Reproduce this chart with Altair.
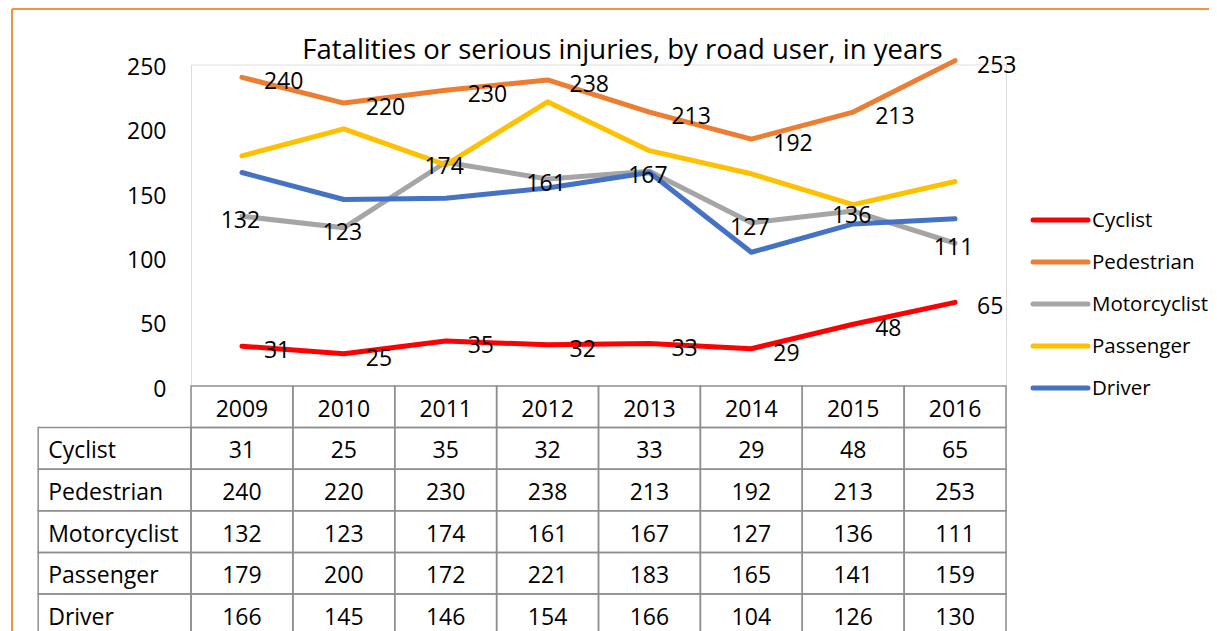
import altair as alt
import pandas as pd

# ---------------- data ----------------
YEARS = [2009, 2010, 2011, 2012, 2013, 2014, 2015, 2016]
SERIES = ["Cyclist", "Pedestrian", "Motorcyclist", "Passenger", "Driver"]
CYCLIST = [31, 25, 35, 32, 33, 29, 48, 65]
PEDESTRIAN = [240, 220, 230, 238, 213, 192, 213, 253]
MOTORCYCLIST = [132, 123, 174, 161, 167, 127, 136, 111]
PASSENGER = [179, 200, 172, 221, 183, 165, 141, 159]
DRIVER = [166, 145, 146, 154, 166, 104, 126, 130]
Y_TICKS = [0, 50, 100, 150, 200, 250]
TITLE = "Fatalities or serious injuries, by road user, in years"
LABEL_RIGHT = ["Cyclist", "Pedestrian"]      # data labels right of point
LABEL_CENTER = ["Motorcyclist"]              # data labels centred on point

# ---------------- style / layout ----------------
COLORS = ["#FF0000", "#ED7D31", "#A5A5A5", "#FFC000", "#4472C4"]
BORDER = "#F0953F"
GRID = "#8E8E8E"
FONT = "Open Sans"
FS = 23
LEG_FS = 20.5
PAD_L, PAD_T, PAD_R = 183, 56.5, 203
W, H = 815, 566.5
ZERO_PX = 321.5          # pixel of value 0 inside the plot
ROW_H = 41.6             # table row height, px
LABEL_COL = 1.5          # width of table's row-label column, in year units

VALUES = dict(zip(SERIES, [CYCLIST, PEDESTRIAN, MOTORCYCLIST, PASSENGER, DRIVER]))
long = pd.DataFrame(
    [{"series": s, "year": y, "value": v} for s in SERIES for y, v in zip(YEARS, VALUES[s])]
)

x_scale = alt.Scale(domain=[YEARS[0] - 0.5, YEARS[-1] + 0.5], nice=False, zero=False)
y_val = alt.Scale(domain=[0, 250], range=[ZERO_PX, 0], nice=False)
color_scale = alt.Scale(domain=SERIES, range=COLORS)

X = alt.X("year:Q", scale=x_scale, axis=None)
Yv = alt.Y("value:Q", scale=y_val, axis=None)

lines = alt.Chart(long).mark_line(strokeWidth=5, strokeCap="round", strokeJoin="round").encode(
    x=X,
    y=alt.Y(
        "value:Q",
        scale=y_val,
        axis=alt.Axis(
            values=Y_TICKS, grid=False, domain=False, ticks=False, tickSize=0,
            labelPadding=25, labelOffset=3, labelFont=FONT, labelFontSize=FS,
            labelColor="black", title=None,
        ),
    ),
    color=alt.Color("series:N", scale=color_scale, legend=None),
)

lab_right = alt.Chart(long[long.series.isin(LABEL_RIGHT)]).mark_text(
    align="left", baseline="middle", dx=22, dy=5, font=FONT, fontSize=FS, color="black"
).encode(x=X, y=Yv, text="value:Q")

lab_center = alt.Chart(long[long.series.isin(LABEL_CENTER)]).mark_text(
    align="center", baseline="middle", dx=-1.5, dy=5, font=FONT, fontSize=FS, color="black"
).encode(x=X, y=Yv, text="value:Q")

# ---------------- data table ----------------
ROWS = ["Year"] + SERIES
cells = []
for y in YEARS:
    cells.append({"row": "Year", "x0": y - 0.5, "x1": y + 0.5, "xc": y, "text": str(y), "kind": "value"})
for s in SERIES:
    left = YEARS[0] - 0.5 - LABEL_COL
    cells.append({"row": s, "x0": left, "x1": YEARS[0] - 0.5, "xc": left, "text": s, "kind": "label"})
    for y, v in zip(YEARS, VALUES[s]):
        cells.append({"row": s, "x0": y - 0.5, "x1": y + 0.5, "xc": y, "text": str(v), "kind": "value"})
cells = pd.DataFrame(cells)


def row_scale():
    return alt.Scale(domain=ROWS, range=[ZERO_PX, ZERO_PX + ROW_H * len(ROWS)],
                     paddingInner=0, paddingOuter=0)


grid = alt.Chart(cells).mark_rect(fillOpacity=0, stroke=GRID, strokeWidth=1.5).encode(
    x=alt.X("x0:Q", scale=x_scale, axis=None),
    x2="x1:Q",
    y=alt.Y("row:N", scale=row_scale(), axis=None),
)

cell_vals = alt.Chart(cells[cells.kind == "value"]).mark_text(
    align="center", baseline="middle", dy=3, font=FONT, fontSize=FS, color="black"
).encode(
    x=alt.X("xc:Q", scale=x_scale, axis=None),
    y=alt.Y("row:N", scale=row_scale(), axis=None),
    text="text:N",
)

cell_labels = alt.Chart(cells[cells.kind == "label"]).mark_text(
    align="left", baseline="middle", dx=10, dy=3, font=FONT, fontSize=FS, color="black"
).encode(
    x=alt.X("xc:Q", scale=x_scale, axis=None),
    y=alt.Y("row:N", scale=row_scale(), axis=None),
    text="text:N",
)

# ---------------- legend ----------------
leg = pd.DataFrame({"series": SERIES})
leg_y = alt.Scale(type="point", domain=SERIES, range=[155.5, 323.5], padding=0)

leg_lines = alt.Chart(leg).mark_rule(strokeWidth=5, strokeCap="round").encode(
    x=alt.value(842), x2=alt.value(897),
    y=alt.Y("series:N", scale=leg_y, axis=None),
    color=alt.Color("series:N", scale=color_scale, legend=None),
)
leg_text = alt.Chart(leg).mark_text(
    align="left", baseline="middle", dy=1, font=FONT, fontSize=LEG_FS, color="black"
).encode(
    x=alt.value(901),
    y=alt.Y("series:N", scale=leg_y, axis=None),
    text="series:N",
)

# ---------------- chart border ----------------
one = pd.DataFrame({"a": [0]})
border_top = alt.Chart(one).mark_rule(color=BORDER, strokeWidth=2).encode(
    x=alt.value(-PAD_L + 4), x2=alt.value(W + PAD_R), y=alt.value(-PAD_T + 1)
)
border_left = alt.Chart(one).mark_rule(color=BORDER, strokeWidth=2).encode(
    x=alt.value(-PAD_L + 4), y=alt.value(-PAD_T + 1), y2=alt.value(H)
)

chart = (
    alt.layer(
        grid, cell_vals, cell_labels, lines, lab_right, lab_center,
        leg_lines, leg_text, border_top, border_left,
    )
    .resolve_scale(y="independent")
    .properties(
        width=W,
        height=H,
        autosize=alt.AutoSizeParams(type="none"),
        padding={"left": PAD_L, "top": PAD_T, "right": PAD_R, "bottom": 0},
        title=alt.TitleParams(
            TITLE, font=FONT, fontSize=27.5, fontWeight="normal", color="black",
            anchor="middle", frame="group", dx=24, dy=60,
        ),
    )
    .configure_view(stroke=None)
    .configure(background="white")
)

chart.save("out.html", embed_options={"renderer": "svg", "actions": False})
